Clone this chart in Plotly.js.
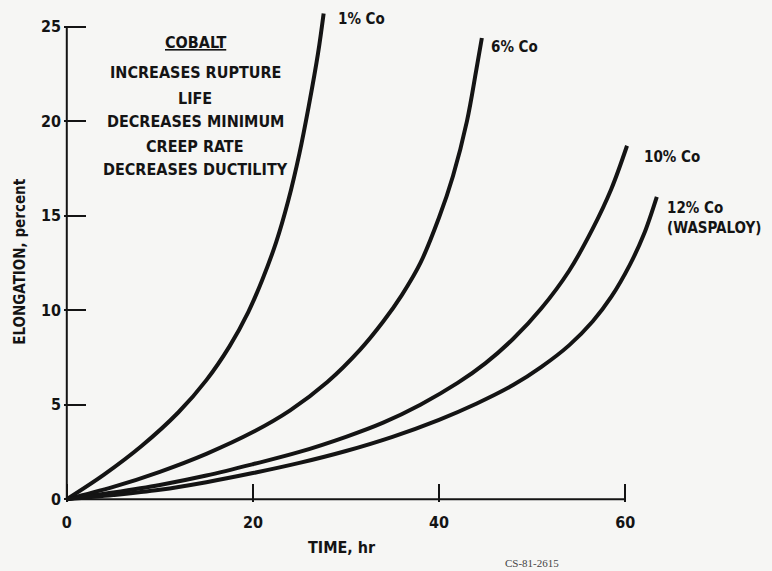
<!DOCTYPE html>
<html>
<head>
<meta charset="utf-8">
<script src="https://cdn.plot.ly/plotly-3.0.1.min.js"></script>
<style>html,body{margin:0;padding:0;background:#f6f6f4;}#chart{width:772px;height:571px;}</style>
</head>
<body>
<div id="chart"></div>
<script>
// Creep curves: time (hr) vs elongation (percent)
const t1 = [0, 4, 8, 12, 15, 17.5, 19.5, 21, 22.5, 23.8, 25, 26, 27, 27.6];
const e1 = [0, 1.3, 2.8, 4.6, 6.3, 8.1, 9.9, 11.6, 13.6, 15.8, 18.3, 20.8, 23.6, 25.7];

const t6 = [0, 5, 10, 15, 20, 24, 28, 31.5, 34, 36, 38, 40, 41.5, 43, 44, 44.6];
const e6 = [0, 0.65, 1.45, 2.4, 3.55, 4.7, 6.2, 7.9, 9.4, 10.8, 12.5, 14.9, 17.1, 20.0, 22.7, 24.4];

const t10 = [0, 5, 10, 15, 20, 25, 30, 34, 38, 42, 45, 48, 51, 54, 56.5, 58.5, 60.2];
const e10 = [0, 0.35, 0.75, 1.25, 1.85, 2.5, 3.3, 4.05, 5.0, 6.15, 7.2, 8.5, 10.1, 12.1, 14.3, 16.4, 18.7];

const t12 = [0, 5, 10, 15, 20, 25, 30, 35, 40, 44, 48, 51, 54, 56.5, 58.5, 60.5, 62, 63.4];
const e12 = [0, 0.22, 0.5, 0.9, 1.38, 1.92, 2.55, 3.3, 4.2, 5.05, 6.05, 7.0, 8.15, 9.4, 10.7, 12.4, 14.0, 16.0];

const seriesNames = ["1% Co", "6% Co", "10% Co", "12% Co<br>(WASPALOY)"];
const xTicks = [0, 20, 40, 60];
const yTicks = [0, 5, 10, 15, 20, 25];
const noteLines = ["<u>COBALT</u>", "INCREASES RUPTURE", "LIFE", "DECREASES MINIMUM", "CREEP RATE", "DECREASES DUCTILITY"];

const FONT = "DejaVu Sans Condensed";
const INK = "#141414";

const lineStyle = {color: INK, width: 4, shape: "spline", smoothing: 1};
const data = [
  {x: t1, y: e1, name: seriesNames[0]},
  {x: t6, y: e6, name: seriesNames[1]},
  {x: t10, y: e10, name: seriesNames[2]},
  {x: t12, y: e12, name: seriesNames[3]}
].map(s => Object.assign(s, {type: "scatter", mode: "lines", line: lineStyle, hoverinfo: "skip"}));

const ends = [[t1, e1], [t6, e6], [t10, e10], [t12, e12]];
const labelOffsets = [[1.3, -0.3], [0.8, -0.5], [1.6, -0.6], [0.9, -1.1]];
const annotations = [];
ends.forEach((s, i) => {
  const n = s[0].length - 1;
  annotations.push({
    x: s[0][n] + labelOffsets[i][0], y: s[1][n] + labelOffsets[i][1],
    xref: "x", yref: "y", text: seriesNames[i], showarrow: false,
    xanchor: "left", yanchor: "middle", align: "left",
    font: {family: FONT, size: 15, weight: "bold", color: INK}
  });
});
const noteY = [24.15, 22.55, 21.2, 20.0, 18.65, 17.45];
noteLines.forEach((txt, i) => {
  annotations.push({
    x: 13.8, y: noteY[i], xref: "x", yref: "y", text: txt, showarrow: false,
    xanchor: "center", yanchor: "middle",
    font: {family: FONT, size: 16, weight: "bold", color: INK}
  });
});
annotations.push({
  x: 0, y: 12.55, xref: "x", yref: "y", xshift: -47, text: "ELONGATION, percent",
  textangle: -90, showarrow: false, font: {family: FONT, size: 15, weight: "bold", color: INK}
});
annotations.push({
  x: 29.6, y: -0.092, xref: "x", yref: "paper", text: "TIME, hr", showarrow: false,
  yanchor: "middle", font: {family: FONT, size: 16, weight: "bold", color: INK}
});
annotations.push({
  x: 50, y: -0.1225, xref: "x", yref: "paper", text: "CS-81-2615", showarrow: false,
  yanchor: "middle", font: {family: "Liberation Serif", size: 11, color: "#444"}
});

const layout = {
  width: 772, height: 571,
  margin: {l: 64, r: 91, t: 4, b: 69},
  paper_bgcolor: "#f6f6f4", plot_bgcolor: "rgba(0,0,0,0)",
  showlegend: false,
  font: {family: FONT, color: INK},
  xaxis: {
    range: [-0.3, 66], tickvals: xTicks, ticktext: xTicks.map(String),
    ticks: "inside", ticklen: 18, tickwidth: 2, tickcolor: INK,
    showgrid: false, zeroline: false, showline: false,
    tickfont: {family: FONT, size: 16, weight: "bold", color: INK}, ticklabelstandoff: 9
  },
  yaxis: {
    range: [-0.15, 26.2], tickvals: yTicks, ticktext: yTicks.map(String),
    ticks: "inside", ticklen: 22, tickwidth: 2, tickcolor: INK,
    showgrid: false, zeroline: false, showline: false,
    tickfont: {family: FONT, size: 16, weight: "bold", color: INK}, ticklabelstandoff: 2
  },
  shapes: [
    {type: "line", xref: "x", yref: "y", x0: 0, x1: 60, y0: 0, y1: 0, line: {color: INK, width: 2}},
    {type: "line", xref: "x", yref: "y", x0: 0, x1: 0, y0: 0, y1: 25, line: {color: INK, width: 2}}
  ],
  annotations: annotations
};

Plotly.newPlot("chart", data, layout, {staticPlot: true, displayModeBar: false});
</script>
</body>
</html>
